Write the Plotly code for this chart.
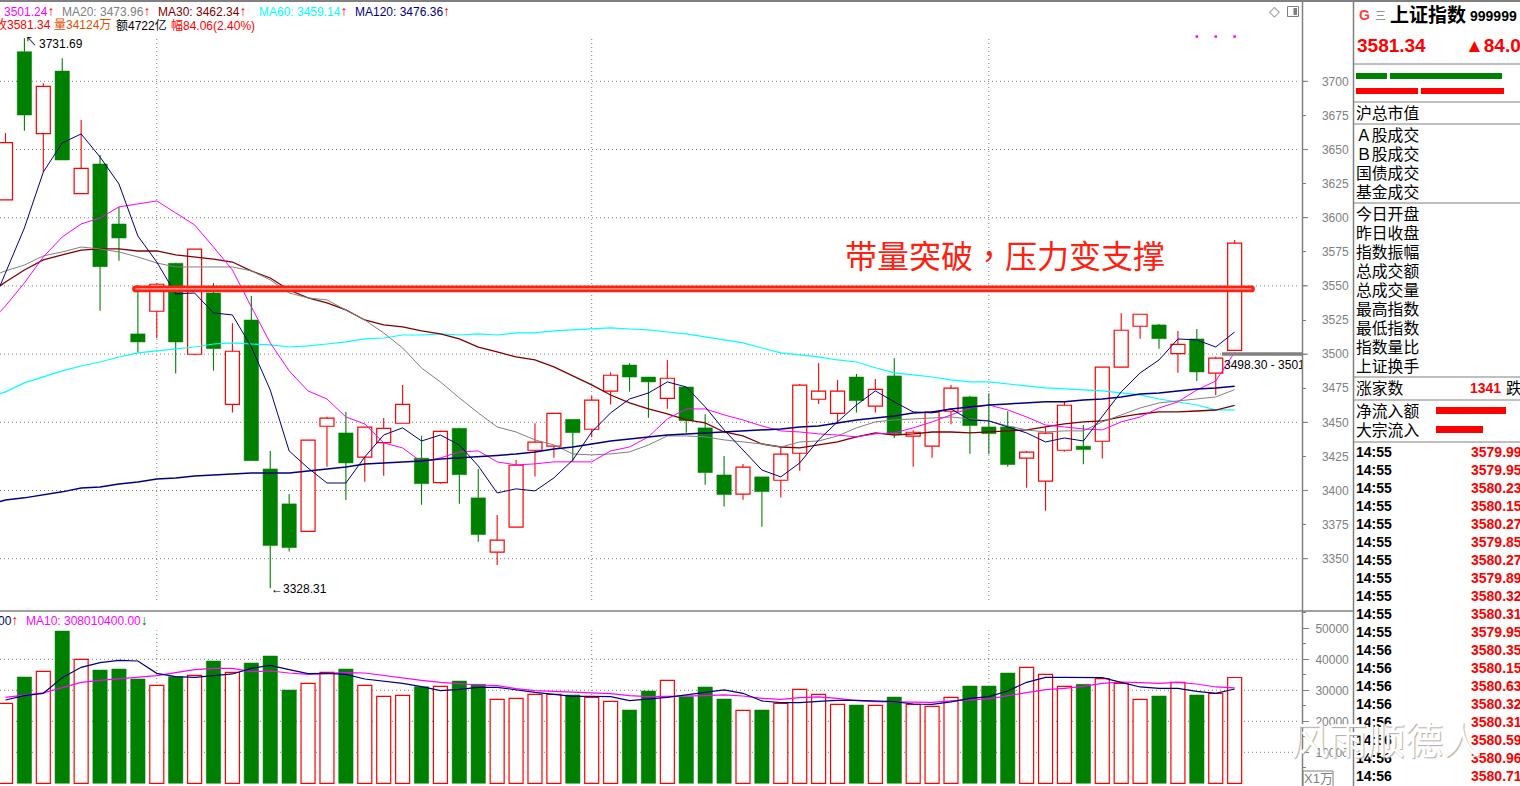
import plotly.graph_objects as go

W, H = 1520, 786
# ---- data ----
OPEN = [3613,3721.7,3661.6,3707.5,3617.6,3639.4,3595.4,3514.8,3531.4,3566.6,3499.9,3544.8,3463.2,3525,3415.8,3390.2,3370.1,3447.1,3442.2,3424.4,3435.1,3449.3,3423.7,3405.8,3445.6,3394.6,3354.8,3373.1,3429.5,3432.5,3452.2,3444.9,3472.8,3492,3483.2,3467.6,3475.9,3445.9,3411.4,3397.3,3410,3407.5,3427.3,3466.9,3456.6,3483.2,3461.8,3484,3439.8,3432.5,3458.1,3468.6,3446.6,3446.6,3423.7,3406.8,3429.5,3432.5,3436.1,3490.4,3520.4,3521.4,3500.3,3511.1,3486,3502.8]
HIGH = [3662,3731.69,3698.5,3716.9,3671.6,3646,3608.1,3550.7,3552,3567,3577,3552,3522.6,3542.6,3429,3397.5,3436.9,3454,3457.6,3446.6,3453.2,3477.4,3440,3443.8,3446,3415.8,3382.1,3422.4,3449.3,3456.6,3452.2,3469.3,3486.7,3493.3,3483.2,3495.7,3476,3455.9,3425.3,3419.5,3410,3432.2,3478,3493.3,3481.1,3485.4,3481.8,3497,3443.9,3458,3477.4,3469.3,3471.3,3458.1,3429,3446.4,3465.1,3448.1,3490.4,3530,3529.2,3522,3517,3518.4,3498,3583.7]
LOW = [3613,3663.8,3633.7,3642.3,3617.6,3531.8,3568.5,3501.1,3511.6,3485.7,3499.2,3487.9,3457.1,3421.9,3328.31,3355.2,3370.1,3417.5,3393.1,3406.5,3410.9,3449.3,3389.6,3405,3390.2,3362.5,3345.4,3373.1,3410.2,3424.1,3421,3439,3463,3472.5,3453.4,3460,3442.4,3404.3,3388.2,3393.3,3373.5,3394.8,3414.4,3463.5,3449.3,3457.1,3457.1,3438.5,3417.5,3424.1,3448.6,3427,3426.6,3417.5,3402.1,3385.2,3428.5,3419.3,3423.4,3490.4,3511.3,3504,3486.4,3480.3,3470,3502.8]
CLOSE = [3655,3675.3,3696.3,3642.3,3636.2,3564.1,3585.1,3508.9,3551.2,3508.9,3576.9,3504,3502.1,3421.9,3359.6,3358.1,3436.9,3453,3420.2,3446.4,3445.6,3463.2,3405,3443.4,3411.6,3367.7,3363.6,3418.5,3435.4,3456.6,3442.4,3466.2,3484.5,3483.2,3479.6,3482.3,3451.2,3413.1,3397,3417.1,3399.2,3426.6,3477.2,3472.8,3472.8,3465.9,3474.2,3441.7,3442.7,3457.4,3475,3447.6,3441.7,3419,3428.1,3442,3462.5,3430,3490.4,3517.5,3529.2,3511.3,3507.2,3486.9,3497,3581.34]
MA5 = [3559.5,3592.5,3633.5,3654.8,3661.4,3644.5,3624.7,3586.6,3567.5,3544.1,3544.8,3530.2,3528.7,3505.2,3473.7,3429,3416.5,3405.5,3405.5,3424.6,3440.7,3445.9,3436.3,3440.7,3433.4,3418,3398.2,3401.2,3399.7,3409.2,3422.4,3442.9,3456.9,3467.1,3471.5,3479.6,3475.9,3461.3,3444.4,3429.7,3415,3410,3420.2,3437.1,3450.3,3462.7,3473,3465,3457.6,3456.9,3459.8,3451.7,3451,3446.6,3442.2,3435.6,3438.5,3436.3,3453.9,3472.3,3486.2,3495.7,3511.1,3510.4,3505.2,3516.2]
MA10 = [3535.3,3552.2,3571.2,3585.9,3595.4,3599.8,3607.9,3610.1,3612.3,3603.5,3594.7,3578.5,3561.7,3534.6,3508.2,3487.7,3473,3467.1,3453.9,3448.8,3434.9,3431.2,3421,3423.9,3428.3,3429,3421,3418.8,3419.5,3421,3421,3421,3429,3431.9,3439.3,3452.5,3459.8,3459.8,3455.4,3451.7,3447.3,3443.7,3442.9,3441.5,3440.7,3439.3,3441.5,3442.2,3445.9,3450.3,3455.4,3460.5,3462.7,3459.1,3453.9,3448,3446.6,3445.1,3444.4,3450.3,3453.9,3460.5,3465,3473.7,3480.3,3501.24]
MA20 = [3561,3565.3,3572,3574.9,3578.5,3577.1,3574.9,3571.2,3566.8,3563.9,3563.9,3563.9,3563.9,3561,3554.4,3544.8,3541.2,3539.7,3532.4,3525,3515.5,3504.5,3489.8,3479.6,3467.9,3456.9,3446.6,3442.9,3437.1,3433.4,3426.8,3426.1,3426.8,3428.3,3433.4,3440,3440,3439.3,3437.1,3435.6,3434.1,3431.9,3435.6,3436.3,3440,3445.9,3450.3,3451.7,3452.5,3453.2,3453.9,3452.5,3451,3447.3,3444.4,3442.9,3443.7,3443.7,3450.3,3455.4,3460.5,3464.2,3465.7,3467.1,3468.6,3473.96]
MA30 = [3552.9,3561.7,3569,3572.7,3576.3,3577.1,3577.1,3575.6,3575.6,3572.7,3571.2,3569.7,3567.5,3561,3555.8,3547,3541.2,3537.5,3532.4,3525,3521.4,3519.9,3517,3514.8,3511.1,3505.2,3501.6,3497.9,3495.7,3490.6,3484,3477.4,3470,3464.2,3459.8,3456.1,3451.7,3449.5,3442.9,3440,3434.1,3431.9,3431.2,3433.4,3435.6,3439.3,3442.2,3440.7,3441.5,3442.9,3442.9,3442.2,3442.9,3443.7,3444.4,3446.6,3448.8,3450.3,3451,3453.9,3456.1,3457.6,3457.6,3458.3,3459,3462.34]
MA60 = [3472.3,3478.9,3483.2,3487.7,3491.3,3494.2,3497.9,3500.9,3502.3,3503.8,3505.2,3507.4,3508.2,3507.4,3506.7,3505.2,3506,3507.4,3508.9,3511.1,3511.8,3514,3514,3514.8,3514,3514.8,3514,3515.5,3515.5,3517,3517.7,3518.4,3519.2,3518.4,3517.7,3516.2,3514.8,3512.6,3510.4,3508.2,3504.5,3500.9,3499.4,3497.9,3495.7,3494.2,3490,3486.2,3484.7,3483.2,3481.1,3479.6,3479.6,3478.1,3476.6,3475.2,3474.5,3473.7,3473,3471.5,3470.1,3467.1,3465,3462.7,3459.1,3459.14]
MA120 = [3393.1,3394.6,3396.8,3399,3401.9,3402.6,3404.8,3406.3,3408.5,3409.2,3410.7,3411.4,3412.1,3412.9,3412.9,3412.9,3414.3,3415.8,3417.2,3419.5,3420.2,3421,3421.7,3423.1,3423.9,3424.6,3425.7,3426.8,3428.3,3430.5,3431.9,3434.1,3436.3,3437.8,3439.3,3440.7,3441.5,3442.2,3442.9,3443.7,3444.4,3445.1,3446.6,3447.3,3449.5,3451.7,3453.2,3454.6,3456.9,3457.6,3459.8,3461.3,3462.7,3463.5,3464.2,3465,3465,3466.4,3467.1,3468.6,3470.8,3471.5,3473,3474.5,3475.2,3476.36]
# value of each average where it enters at the left edge of the picture
MA_EDGE = dict(ma5=3550, ma10=3531, ma20=3559.5, ma30=3550, ma60=3471, ma120=3392)
VOLUME = [25800,34300,36100,49100,40000,36550,36870,33650,31600,34400,34840,39450,35800,38800,41070,30100,32260,35800,36870,31600,28070,28390,31160,31290,33000,31940,27100,27420,28710,28710,28490,27740,26450,23650,29780,33230,27940,31070,27200,23550,23650,25800,30320,28710,25490,25260,25160,27840,25490,24840,27740,31390,31390,35580,37420,35160,31290,31940,33740,32260,27100,28160,32580,28490,29030,34124]
VOL_MA5 = [26880,28280,29030,34085,37420,38920,39675,39460,35480,34400,34190,34730,35270,37095,38065,36665,35375,35480,35160,33655,33010,32260,31180,29890,30320,30970,30970,30110,29355,28710,28065,28065,27960,26670,27100,27740,28495,29355,30110,29030,26560,26020,26020,26450,26775,26775,26670,26345,25590,25485,26240,27420,27960,29785,32580,34190,34190,34190,34085,32580,31075,30645,30645,29680,29030,30430]
VOL_MA10 = [27740,28390,29140,30860,32580,33225,33760,34190,34730,35700,36665,37095,37095,36020,36235,35590,35160,35480,35700,35590,34730,33870,33225,32580,32040,31720,31505,30540,29890,29680,29460,29250,28925,28280,27960,28065,28065,28280,28495,28170,27420,27100,27635,27850,27420,26670,26345,26240,26020,26130,26560,26990,27205,28280,29140,30215,30645,31290,32260,32685,32470,32260,32580,32040,31075,30801]
PRICE_TICKS = [3350,3375,3400,3425,3450,3475,3500,3525,3550,3575,3600,3625,3650,3675,3700]
PRICE_GRID = [3350,3400,3450,3500,3550,3600,3650,3700]
VOL_TICKS = [10000,20000,30000,40000,50000]
VOL_MINOR = [5000,15000,25000,35000,45000,55000]
VOL_GRID = [10000,20000,30000,40000]
SPLIT_X = [8,31,52]
RESIST = 3547.8
SUPPORT = 3500
MARK_X = [63,64,65]
MARK_Y = [3732.8,3732.8,3732.8]
LABEL_GROUPS = [["沪总市值"],["Ａ股成交","Ｂ股成交","国债成交","基金成交"],
    ["今日开盘","昨日收盘","指数振幅","总成交额","总成交量","最高指数","最低指数","指数量比","上证换手"],
    ["涨家数"],["净流入额","大宗流入"]]
TICK_TIMES = ["14:55"]*11 + ["14:56"]*8
TICK_PRICES = ["3579.99","3579.95","3580.23","3580.15","3580.27","3579.85","3580.27","3579.89","3580.32","3580.31","3579.95","3580.35","3580.15","3580.63","3580.32","3580.31","3580.59","3580.96","3580.71"]

n = len(CLOSE)
for arr in (OPEN,HIGH,LOW,MA5,MA10,MA20,MA30,MA60,MA120,VOLUME,VOL_MA5,VOL_MA10):
    assert len(arr) == n, len(arr)

RED, GREEN, GREY = "#FF0000", "#008000", "#808080"
X0, DX = 5.5, 18.91
xr = [(0-X0)/DX, (1302-X0)/DX]
ixs = list(range(n))
up = [i for i in ixs if CLOSE[i] >= OPEN[i]]
dn = [i for i in ixs if CLOSE[i] < OPEN[i]]

fig = go.Figure()
def bodies(idx, fill, line, w, lw):
    fig.add_bar(x=idx, base=[min(OPEN[i],CLOSE[i]) for i in idx], y=[abs(CLOSE[i]-OPEN[i]) for i in idx],
                width=w, marker=dict(color=fill, line=dict(color=line, width=lw)), yaxis="y")
def wicks(idx, color):
    xs, ys = [], []
    for i in idx:
        xs += [i,i,None,i,i,None]
        ys += [HIGH[i],max(OPEN[i],CLOSE[i]),None,min(OPEN[i],CLOSE[i]),LOW[i],None]
    fig.add_scatter(x=xs, y=ys, mode="lines", line=dict(color=color, width=1.1), yaxis="y")
bodies(up, "#FFFFFF", RED, 0.74, 1.2)
bodies(dn, GREEN, GREEN, 0.76, 0.5)
wicks(up, RED)
wicks(dn, GREEN)
for arr, e, c, lw in ((MA60,MA_EDGE["ma60"],"#00FFFF",1.2),(MA30,MA_EDGE["ma30"],"#800000",1.3),(MA20,MA_EDGE["ma20"],GREY,1),
                      (MA10,MA_EDGE["ma10"],"#FF00FF",1),(MA5,MA_EDGE["ma5"],"#000080",1),(MA120,MA_EDGE["ma120"],"#000080",1.5)):
    fig.add_scatter(x=[xr[0]]+ixs, y=[e]+arr, mode="lines", line=dict(color=c, width=lw), yaxis="y")
# resistance band, support bar, signal dots, hit-line text
rx = [(135.5-X0)/DX, (1251.5-X0)/DX]
fig.add_scatter(x=rx, y=[RESIST,RESIST], mode="lines+markers", line=dict(color="#FF2010", width=6.7),
                marker=dict(color="#FF2010", size=6.7), yaxis="y")
fig.add_scatter(x=rx, y=[RESIST,RESIST], mode="lines", line=dict(color="#FFFFFF", width=0.8), yaxis="y")
fig.add_scatter(x=[(1222-X0)/DX, xr[1]], y=[SUPPORT,SUPPORT], mode="lines", line=dict(color=GREY, width=3.5), yaxis="y")
fig.add_scatter(x=MARK_X, y=MARK_Y, mode="markers", marker=dict(color="#FF00FF", size=2.5, symbol="square"), yaxis="y")
fig.add_scatter(x=[(1224-X0)/DX], y=[3491.5], mode="text", text=["3498.30 - 3501.24"], textposition="middle right",
                textfont=dict(family="Liberation Sans", size=12, color="#000000"), cliponaxis=True, yaxis="y")
# volume panel
def vbars(idx, fill, line, w, lw):
    fig.add_bar(x=idx, y=[VOLUME[i] for i in idx], width=w, marker=dict(color=fill, line=dict(color=line, width=lw)), yaxis="y2")
vbars(up, "#FFFFFF", RED, 0.74, 1.2)
vbars(dn, GREEN, GREEN, 0.76, 0.5)
fig.add_scatter(x=ixs, y=VOL_MA10, mode="lines", line=dict(color="#FF00FF", width=1.2), yaxis="y2")
fig.add_scatter(x=ixs, y=VOL_MA5, mode="lines", line=dict(color="#000080", width=1.2), yaxis="y2")

# ---- layout helpers ----
def px(x): return x/W
def py(y): return 1-y/H
SPLIT = 611
SANS = "Liberation Sans, Noto Sans CJK SC"
CJK = "Noto Sans CJK SC, Liberation Sans"
ann, shp = [], []
def T(x, y, s, color="#000000", size=12, bold=False, anchor="left", fam=SANS, **kw):
    f = dict(family=fam, size=size, color=color)
    if bold: f["weight"] = "bold"
    f.update(kw)
    ann.append(dict(x=px(x), y=py(y), xref="paper", yref="paper", text=s, showarrow=False, xanchor=anchor,
                    yanchor="middle", font=f, borderpad=0))
def L(x0, y0, x1, y1, color=GREY, w=1, dash="solid", layer="above"):
    shp.append(dict(type="line", x0=px(x0), y0=py(y0), x1=px(x1), y1=py(y1), xref="paper", yref="paper",
                    line=dict(color=color, width=w, dash=dash), layer=layer))
def R(x0, y0, x1, y1, fill=None, line=None):
    shp.append(dict(type="rect", x0=px(x0), y0=py(y0), x1=px(x1), y1=py(y1), xref="paper", yref="paper",
                    fillcolor=fill or "rgba(0,0,0,0)", line=dict(color=line or "rgba(0,0,0,0)", width=1 if line else 0)))
DOT = "1px,3px"
for p in PRICE_GRID:
    shp.append(dict(type="line", x0=0, x1=px(1300), y0=p, y1=p, xref="paper", yref="y", layer="below",
                    line=dict(color=GREY, width=1, dash=DOT)))
    shp.append(dict(type="line", x0=px(1302), x1=px(1308), y0=p, y1=p, xref="paper", yref="y", line=dict(color=GREY, width=1)))
for v in VOL_GRID:
    shp.append(dict(type="line", x0=0, x1=px(1300), y0=v, y1=v, xref="paper", yref="y2", layer="below",
                    line=dict(color=GREY, width=1, dash=DOT)))
for s in SPLIT_X:
    shp.append(dict(type="line", x0=s, x1=s, y0=3319.7, y1=3731.7, xref="x", yref="y", layer="below", line=dict(color=GREY, width=1, dash=DOT)))
    shp.append(dict(type="line", x0=s, x1=s, y0=100, y1=49360, xref="x", yref="y2", layer="below", line=dict(color=GREY, width=1, dash=DOT)))
# frame
L(0,1,1520,1,w=2)
L(0,SPLIT,1353.5,SPLIT,w=1.5)
L(1302.5,0,1302.5,786,w=1.5)
L(1353.5,0,1353.5,786,w=1.5)
for y in (64,102,124,203,377,400,442):
    L(1353.5,y,1520,y)
# legend rows
ARROW = "font-size:14px;font-weight:bold"
for x, s, c in ((3,"3501.24","#FF00FF"),(61,"MA20: 3473.96",GREY),(157,"MA30: 3462.34","#800000"),(258,"MA60: 3459.14","#00FFFF"),(354,"MA120: 3476.36","#000080")):
    T(x,10.5,f"{s}<span style='color:{RED};{ARROW}'>↑</span>",c)
for x, s, c in ((-6,"收3581.34",RED),(53,"量34124万","#E05000"),(115,"额4722亿","#000000"),(170,"幅84.06(2.40%)",RED)):
    T(x,25,s,c)
T(-3,619.5,f"00<span style='color:{RED};{ARROW}'>↑</span>","#000080")
T(25,619.5,f"MA10: 308010400.00<span style='color:{GREEN};{ARROW}'>↓</span>","#FF00FF")
# extreme labels
T(24,42,"↖","#000000",12)
T(38,44,"3731.69")
T(270,589,"←3328.31")
# note
T(844,254,"带量突破，压力变支撑","#FF2010",32,fam="Noto Sans CJK TC")
# icons
T(1274,11,"◇",GREY,14,anchor="center",fam="DejaVu Sans")
R(1287.5,6.5,1298.5,16.5,line=GREY)
R(1293.5,8,1297,15,fill=GREY)
# right header
T(1358,15,"G","#FF4040",14,True)
T(1380,15,"三",GREY,11,anchor="center",fam=CJK)
T(1388.5,14,"上证指数","#000000",19,True,fam=CJK)
T(1469,16,"999999","#000000",14,True)
T(1356,45,"3581.34",RED,19,True)
T(1464,45,"▲84.0",RED,19,True)
R(1356,73,1387,79,fill=GREEN); R(1390,73,1502,79,fill=GREEN)
R(1356,88,1418,94,fill=RED); R(1421,88,1504,94,fill=RED)
ROWS = [[113],[135,154,173,192],[214,233,252,271,290,309,328,347,366],[388],[411,430]]
for g, ys in zip(LABEL_GROUPS, ROWS):
    for s, y in zip(g, ys):
        T(1355,y-0.5,s,"#000000",15.8,fam=CJK)
T(1469,388,"1341",RED,14,True)
T(1505,387.5,"跌","#000000",15.8,fam=CJK)
R(1436,407,1506,414,fill=RED)
R(1436,426,1483,433,fill=RED)
for k, (t, v) in enumerate(zip(TICK_TIMES, TICK_PRICES)):
    y = 452+18*k
    T(1354.5,y,t,"#000000",14,True)
    T(1470,y,v,RED,14,True)
# unit box + watermark
R(1303,771,1333,790,line=GREY)
T(1318,778,"X1万",GREY,13,anchor="center")
T(1290,737,"风雨顺德人","#FFFFFF",38,fam=CJK,shadow="1px 1px 1px #AAAAAA")

axis_font = dict(family="Liberation Sans", size=12, color=GREY)
fig.update_layout(
    width=W, height=H, autosize=False, margin=dict(l=0,r=0,t=0,b=0), paper_bgcolor="#FFFFFF", plot_bgcolor="#FFFFFF",
    barmode="overlay", showlegend=False, hovermode=False,
    xaxis=dict(domain=[0,1302/W], range=xr, visible=False, fixedrange=True),
    yaxis=dict(domain=[(H-SPLIT)/H,1], range=[3700-(SPLIT-81.3)/1.364, 3700+81.3/1.364], side="right", anchor="x",
               tickvals=PRICE_TICKS, ticks="outside", ticklen=2.5, tickcolor=GREY, tickfont=axis_font, tickformat="d",
               ticklabelstandoff=14, showgrid=False, zeroline=False, showline=False, fixedrange=True),
    yaxis2=dict(domain=[0,(H-SPLIT)/H], range=[-870,55584], side="right", anchor="x",
                tickvals=VOL_TICKS, ticks="outside", ticklen=6, tickcolor=GREY, tickfont=axis_font, tickformat="d",
                ticklabelstandoff=4, minor=dict(tickvals=VOL_MINOR, ticks="outside", ticklen=2.5, tickcolor=GREY),
                showgrid=False, zeroline=False, showline=False, fixedrange=True),
    annotations=ann, shapes=shp,
)
fig.write_html("out.html", config=dict(displayModeBar=False),
               post_script="document.body.style.margin='0';document.body.style.overflow='hidden';")
